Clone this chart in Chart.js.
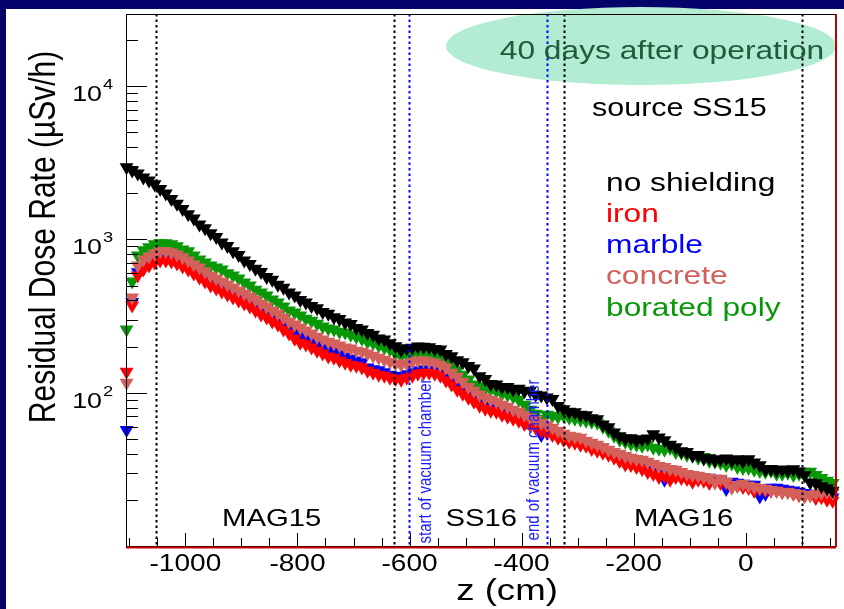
<!DOCTYPE html>
<html>
<head>
<meta charset="utf-8">
<title>Residual Dose Rate</title>
<script src="https://cdn.jsdelivr.net/npm/chart.js@4.4.1/dist/chart.umd.min.js"></script>
<style>
  html, body { margin: 0; padding: 0; background: #03036b; }
  #wrap { width: 844px; height: 609px; }
</style>
</head>
<body>
<div id="wrap"><canvas id="doseChart" width="844" height="609"></canvas></div>
<script>
// bin centres along the beam line (cm)
const zPositions = [
  -1105, -1095, -1085, -1075, -1065, -1055, -1045, -1035, -1025, -1015,
  -1005, -995, -985, -975, -965, -955, -945, -935, -925, -915,
  -905, -895, -885, -875, -865, -855, -845, -835, -825, -815,
  -805, -795, -785, -775, -765, -755, -745, -735, -725, -715,
  -705, -695, -685, -675, -665, -655, -645, -635, -625, -615,
  -605, -595, -585, -575, -565, -555, -545, -535, -525, -515,
  -505, -495, -485, -475, -465, -455, -445, -435, -425, -415,
  -405, -395, -385, -375, -365, -355, -345, -335, -325, -315,
  -305, -295, -285, -275, -265, -255, -245, -235, -225, -215,
  -205, -195, -185, -175, -165, -155, -145, -135, -125, -115,
  -105, -95, -85, -75, -65, -55, -45, -35, -25, -15,
  -5, 5, 15, 25, 35, 45, 55, 65, 75, 85,
  95, 105, 115, 125, 135, 145, 155
];

// residual dose rate (uSv/h) per shielding option
const noShielding = [
  2955, 2810, 2690, 2530, 2420, 2290, 2130, 1990, 1830, 1710,
  1580, 1460, 1370, 1250, 1180, 1095, 1035, 955, 905, 835,
  790, 728, 690, 642, 612, 568, 545, 505, 484, 450,
  430, 402, 388, 368, 356, 336, 327, 310, 302, 287,
  280, 264, 258, 245, 239, 226, 222, 210, 201, 190,
  195, 196, 200, 199, 198, 193, 191, 179, 173, 163,
  158, 149, 144, 128, 123, 114, 113, 109, 109, 105,
  106, 102, 103, 97, 96, 93, 91, 82, 78, 75,
  74.5, 71.8, 71.2, 68, 67, 62, 59.5, 55, 52, 50.3,
  50.5, 48.8, 49.6, 50.2, 53.5, 51, 49, 45.8, 44, 41.5,
  41, 39, 39.2, 37.2, 37.4, 36.2, 36.8, 37.2, 36, 36.8,
  35.6, 36.8, 35, 33.6, 31.6, 31.8, 31.2, 31.6, 31, 31.7,
  30.6, 28.9, 26, 25.7, 24.5, 23.8, 22.9
];
const iron = [
  137, 370, 582, 637, 676, 707, 729, 729, 718, 697,
  666, 637, 599, 564, 531, 500, 478, 457, 437, 418,
  399, 382, 365, 343, 323, 309, 291, 278, 258, 243,
  225, 212, 206, 197, 188, 180, 172, 169, 162, 157,
  152, 150, 146, 139, 135, 131, 129, 125, 123, 121.5,
  125, 129, 133, 135, 135, 133, 129, 120, 113, 104.6,
  98.5, 92.7, 87.3, 82.2, 78.6, 76.2, 75, 71.8, 69.7, 67.6,
  65.6, 62.5, 61.8, 59, 56.4, 54.8, 53, 50.8, 49.3, 47.8,
  47.1, 45.7, 45, 43, 41.8, 40.5, 39.3, 37.6, 35.9, 34,
  33.8, 32.8, 31.8, 30.4, 29.5, 28.2, 28.7, 27, 28.2, 27.8,
  27.4, 26.2, 27, 26.6, 25.8, 26.2, 25.8, 26, 25, 24.7,
  24.3, 23.9, 22.8, 23.6, 23.2, 22.9, 22.9, 22.5, 22.6, 21.9,
  21.5, 21.2, 21.5, 20.6, 20.8, 20, 19.7
];
const marble = [
  57, 390, 610, 668, 705, 740, 760, 765, 750, 728,
  700, 668, 630, 590, 556, 523, 500, 478, 458, 438,
  418, 400, 376, 360, 340, 325, 306, 288, 272, 256,
  248, 237, 227, 217, 207, 198, 190, 184, 178, 172,
  167, 162, 158, 146, 142, 140, 136, 131, 129, 128,
  132, 136, 140, 142, 141, 139, 135, 126, 117, 110,
  103, 97, 91.5, 86, 82.5, 80, 77.5, 75.3, 73.1, 70.9,
  68.8, 66.7, 64.8, 61.9, 53, 57.5, 54.9, 53.3, 51.7, 50.1,
  49.4, 47.9, 46.5, 45.1, 43.8, 42.5, 41.2, 39.4, 37.6, 36.6,
  35.4, 34.4, 33.4, 31.9, 31, 30.1, 27, 29.6, 29.6, 29.1,
  28.7, 28.3, 28.3, 27.9, 27.9, 27.5, 27.1, 23.5, 26.2, 25.9,
  25.5, 25.1, 25.1, 21, 21.8, 24, 24, 23.6, 23.3, 23,
  22.6, 22.2, 21.9, 21.6, 21.3, 21, 20.7
];
const concrete = [
  116, 418, 676, 740, 774, 810, 835, 835, 822, 798,
  763, 729, 686, 656, 618, 582, 556, 531, 508, 486,
  464, 444, 424, 405, 382, 365, 343, 328, 309, 291,
  278, 266, 254, 243, 232, 222, 215, 209, 203, 197,
  194, 188, 185, 180, 174, 169, 164, 159, 155, 152,
  155, 159, 162, 162, 159, 157, 152, 146, 135, 127,
  118, 109, 103, 97, 92.7, 90, 87.3, 83.5, 81, 77.4,
  75.1, 71.8, 68.6, 66.6, 63.6, 61.8, 59, 56.4, 53.9, 52.3,
  51.6, 50.8, 48.5, 47.1, 45.7, 44.3, 42.4, 41.1, 39.9, 38.7,
  37.6, 37, 36.5, 35.4, 34.3, 33.3, 32.8, 31.8, 31.4, 30.4,
  29.5, 29.1, 28.7, 28.2, 27.8, 26, 27.5, 26.2, 24, 25,
  25.5, 24.7, 24.3, 23.9, 23.6, 23.2, 22.9, 22.5, 22.5, 22.2,
  21.9, 21.5, 21.5, 21.9, 22.2, 22.5, 22.2
];
const boratedPoly = [
  258, 532, 786, 848, 887, 928, 942, 942, 928, 900,
  860, 835, 786, 740, 707, 676, 656, 635, 600, 582,
  556, 524, 500, 470, 450, 430, 405, 387, 365, 343,
  333, 319, 304, 295, 282, 270, 262, 258, 250, 247,
  239, 232, 225, 215, 211, 203, 197, 191, 180, 174,
  177, 180, 183, 183, 180, 177, 174, 164, 152, 141,
  131, 122, 113, 110, 106, 105, 102, 98.5, 97, 94.2,
  90, 83.5, 77.4, 72.9, 67.6, 71.8, 70.7, 69.7, 71, 68.6,
  67.6, 66.6, 65.6, 64.6, 63.7, 59.9, 56.4, 52.4, 49.3, 47.8,
  46.4, 45.7, 45, 46, 43.7, 43.1, 42.4, 43.5, 41.1, 40.5,
  39.3, 38.8, 37.6, 38, 35.9, 35.4, 34.9, 33.8, 34.5, 32.8,
  32.3, 32.3, 31.4, 30.9, 30.5, 31, 29.6, 29.6, 30, 29.1,
  29.6, 30.5, 30.5, 29.1, 27.8, 26.6, 25.8
];

const seriesNames = ['no shielding', 'iron', 'marble', 'concrete', 'borated poly'];

// axis ticks
const xTickLabels = [-1000, -800, -600, -400, -200, 0];
const xMinorTicks = [-1100, -1050, -950, -900, -850, -750, -700, -650, -550, -500, -450,
  -350, -300, -250, -150, -100, -50, 50, 100, 150];
const yDecades = [100, 1000, 10000];
const yDecadeExponents = ['2', '3', '4'];
const yMinorTicks = [20, 30, 40, 50, 60, 70, 80, 90, 200, 300, 400, 500, 600, 700, 800, 900,
  2000, 3000, 4000, 5000, 6000, 7000, 8000, 9000, 20000];

// geometry markers along z (cm)
const boundaryLines = [-1052, -627, -325, 100];
const chamberLines = [-601, -354];
const regionNames = ['MAG15', 'SS16', 'MAG16'];
const regionCenters = [-846, -472, -111];

document.addEventListener('DOMContentLoaded', function () {
    const NAVY = '#03036b';
    const FONT = '"Liberation Sans", Arial, Helvetica, sans-serif';
    const STRETCH = 1.22; // the slide is a little wider than tall
    const colors = {
        black: '#000000',
        red: '#ff0000',
        blue: '#0000ff',
        concrete: '#d4605c',
        green: '#089808'
    };
    const legendColors = [colors.black, colors.red, colors.blue, colors.concrete, colors.green];

    function drawLabel(ctx, text, x, y, size, color, opts) {
        opts = opts || {};
        ctx.save();
        ctx.translate(x, y);
        ctx.scale(STRETCH, 1);
        if (opts.vertical) ctx.rotate(-Math.PI / 2);
        ctx.font = size + 'px ' + FONT;
        ctx.fillStyle = color;
        ctx.textAlign = opts.align || 'left';
        ctx.textBaseline = opts.baseline || 'alphabetic';
        ctx.fillText(text, 0, 0);
        ctx.restore();
    }

    function vLine(ctx, x, top, bottom, color) {
        ctx.save();
        ctx.strokeStyle = color;
        ctx.lineWidth = 2;
        ctx.setLineDash([2.5, 3]);
        ctx.beginPath();
        ctx.moveTo(Math.round(x) + 0.5, top);
        ctx.lineTo(Math.round(x) + 0.5, bottom);
        ctx.stroke();
        ctx.restore();
    }

    const slidePlugin = {
        id: 'slide',
        beforeDraw(chart) {
            const ctx = chart.ctx;
            ctx.save();
            ctx.fillStyle = NAVY;
            ctx.fillRect(0, 0, chart.width, chart.height);
            ctx.fillStyle = '#ffffff';
            ctx.fillRect(6, 9, chart.width - 6, chart.height - 9);
            // highlight bubble
            ctx.fillStyle = '#b2ecd2';
            ctx.beginPath();
            ctx.ellipse(641, 46, 195, 39, 0, 0, Math.PI * 2);
            ctx.fill();
            ctx.restore();
        }
    };

    const overlayPlugin = {
        id: 'overlay',
        afterDatasetsDraw(chart) {
            const ctx = chart.ctx;
            const area = chart.chartArea;
            const xs = chart.scales.x;
            const ys = chart.scales.y;

            // dotted geometry lines
            boundaryLines.forEach(z => vLine(ctx, xs.getPixelForValue(z), area.top, area.bottom, '#000000'));
            chamberLines.forEach(z => vLine(ctx, xs.getPixelForValue(z), area.top, area.bottom, '#0000ff'));

            // frame
            ctx.save();
            ctx.strokeStyle = '#000000';
            ctx.lineWidth = 1;
            ctx.strokeRect(area.left + 0.5, area.top + 0.5, area.right - area.left, area.bottom - area.top);

            // y ticks (inside the frame)
            ctx.beginPath();
            yDecades.forEach(v => {
                const py = Math.round(ys.getPixelForValue(v)) + 0.5;
                ctx.moveTo(area.left, py); ctx.lineTo(area.left + 21, py);
            });
            yMinorTicks.forEach(v => {
                const py = Math.round(ys.getPixelForValue(v)) + 0.5;
                ctx.moveTo(area.left, py); ctx.lineTo(area.left + 12, py);
            });
            // x ticks
            xTickLabels.forEach(v => {
                const px = Math.round(xs.getPixelForValue(v)) + 0.5;
                ctx.moveTo(px, area.bottom); ctx.lineTo(px, area.bottom - 13);
            });
            xMinorTicks.forEach(v => {
                const px = Math.round(xs.getPixelForValue(v)) + 0.5;
                ctx.moveTo(px, area.bottom); ctx.lineTo(px, area.bottom - 8);
            });
            ctx.stroke();

            // red histogram edges
            ctx.strokeStyle = '#c00000';
            ctx.lineWidth = 2;
            ctx.beginPath();
            ctx.moveTo(area.right, area.top);
            ctx.lineTo(area.right, area.bottom + 1);
            ctx.moveTo(area.left, area.bottom + 1.5);
            ctx.lineTo(area.right, area.bottom + 1.5);
            ctx.stroke();
            ctx.restore();

            // axis labels
            xTickLabels.forEach(v => {
                drawLabel(ctx, String(v), xs.getPixelForValue(v), 571, 23, '#000000', { align: 'center' });
            });
            yDecades.forEach((v, i) => {
                const py = ys.getPixelForValue(v);
                drawLabel(ctx, '10', 102, py + 15, 22, '#000000', { align: 'right' });
                drawLabel(ctx, yDecadeExponents[i], 103, py + 3, 15, '#000000');
            });
            drawLabel(ctx, 'z (cm)', 507, 600, 30, '#000000', { align: 'center' });
            drawLabel(ctx, 'Residual Dose Rate (\u00B5Sv/h)', 45, 237, 30, '#000000',
                { align: 'center', baseline: 'middle', vertical: true });

            // region names
            regionNames.forEach((name, i) => {
                drawLabel(ctx, name, xs.getPixelForValue(regionCenters[i]), 526, 24, '#000000', { align: 'center' });
            });
            const blueText = '#1a1aff';
            drawLabel(ctx, 'start of vacuum chamber', xs.getPixelForValue(chamberLines[0]) + 17, 461, 15, blueText,
                { align: 'center', baseline: 'middle', vertical: true });
            drawLabel(ctx, 'end of vacuum chamber', xs.getPixelForValue(chamberLines[1]) - 13, 460, 15, blueText,
                { align: 'center', baseline: 'middle', vertical: true });

            // annotations and legend
            drawLabel(ctx, '40 days after operation', 662, 59, 26, '#1f5a3a', { align: 'center' });
            drawLabel(ctx, 'source SS15', 592, 116, 25, '#000000');
            const legendBase = [191, 222, 253, 284, 316];
            seriesNames.forEach((name, i) => {
                drawLabel(ctx, name, 606, legendBase[i], 26, legendColors[i]);
            });
        }
    };

    function series(label, values, color, order) {
        return {
            label,
            data: zPositions.map((z, i) => ({ x: z, y: values[i] })),
            backgroundColor: color,
            borderColor: color,
            borderWidth: 0,
            pointStyle: 'triangle',
            rotation: 180,
            pointRadius: 8,
            pointBorderWidth: 0,
            showLine: false,
            clip: { left: 9, right: 9, top: 0, bottom: 0 },
            order
        };
    }

    const ctx = document.getElementById('doseChart');
    new Chart(ctx, {
        type: 'scatter',
        data: {
            datasets: [
                series(seriesNames[0], noShielding, colors.black, 0),
                series(seriesNames[3], concrete, colors.concrete, 1),
                series(seriesNames[1], iron, colors.red, 2),
                series(seriesNames[2], marble, colors.blue, 3),
                series(seriesNames[4], boratedPoly, colors.green, 4)
            ]
        },
        options: {
            responsive: false,
            animation: false,
            events: [],
            layout: { padding: { left: 126, right: 7, top: 14, bottom: 63 } },
            scales: {
                x: { type: 'linear', min: -1106, max: 161, display: false },
                y: { type: 'logarithmic', min: 10, max: 29500, display: false }
            },
            plugins: {
                legend: { display: false },
                tooltip: { enabled: false }
            }
        },
        plugins: [slidePlugin, overlayPlugin]
    });
});
</script>
</body>
</html>
